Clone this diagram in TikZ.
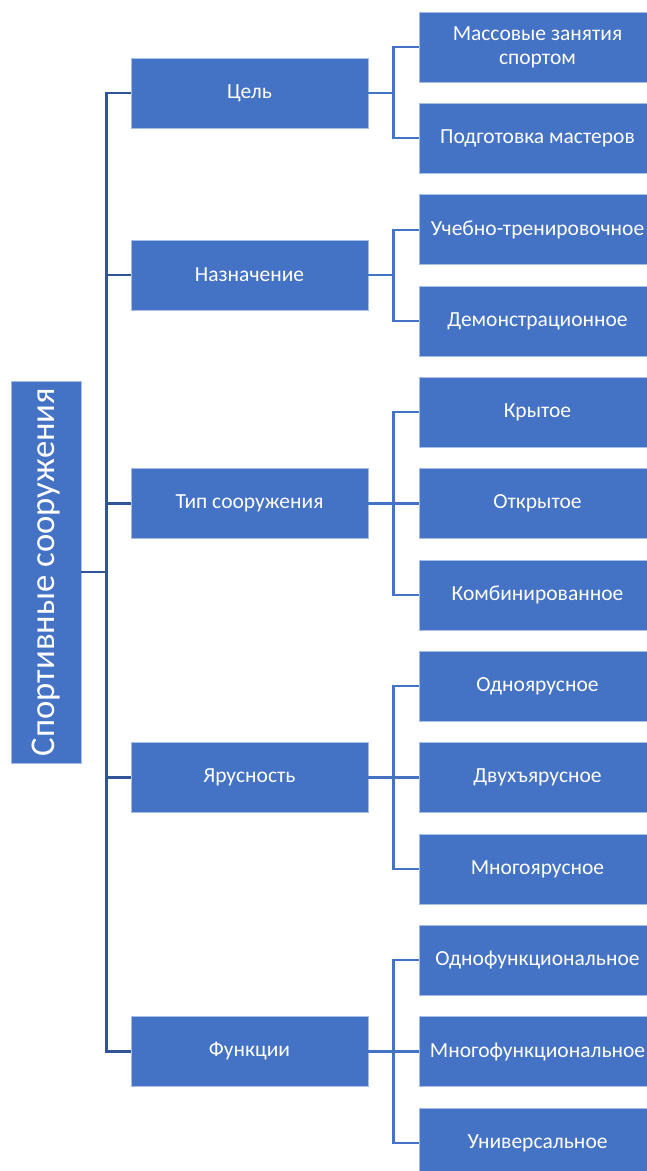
\documentclass[tikz,border=0pt]{standalone}
\usepackage{fontspec}
\setmainfont{Carlito}
\definecolor{boxblue}{HTML}{4472C4}
\definecolor{boxedge}{HTML}{A9BEE4}
\definecolor{lineA}{HTML}{2F5597}
\definecolor{lineB}{HTML}{4472C4}
\begin{document}
\begin{tikzpicture}[x=1pt,y=-1pt,
  box/.style={fill=boxblue, draw=boxedge, line width=0.8pt, minimum width=237pt,
    minimum height=70pt, text=white, font=\fontsize{21.5}{24}\selectfont,
    align=center, inner sep=0pt},
  rootbox/.style={box, minimum width=382pt, minimum height=70pt, rotate=90,
    font=\fontsize{34.7}{40}\selectfont},
  lvlA/.style={draw=lineA, line width=2.2pt},
  lvlB/.style={draw=lineB, line width=2.2pt}]
\useasboundingbox (0,0) rectangle (646,1171);
\fill[white] (0,0) rectangle (646,1171);

\node[rootbox] (root) at (46,572) {Спортивные сооружения};

\node[box] (m1) at (249.5,93) {Цель};
\node[box] (m2) at (249.5,275) {Назначение};
\node[box] (m3) at (249.5,503.5) {Тип сооружения};
\node[box] (m4) at (249.5,777.5) {Ярусность};
\node[box] (m5) at (249.5,1051.5) {Функции};

\node[box] (r1) at (537.5,47) {Массовые занятия\\спортом};
\node[box] (r2) at (537.5,138.3) {Подготовка мастеров};
\node[box] (r3) at (537.5,229.7) {Учебно-тренировочное};
\node[box] (r4) at (537.5,321) {Демонстрационное};
\node[box] (r5) at (537.5,412.3) {Крытое};
\node[box] (r6) at (537.5,503.5) {Открытое};
\node[box] (r7) at (537.5,595) {Комбинированное};
\node[box] (r8) at (537.5,686.3) {Одноярусное};
\node[box] (r9) at (537.5,777.5) {Двухъярусное};
\node[box] (r10) at (537.5,869) {Многоярусное};
\node[box] (r11) at (537.5,960.2) {Однофункциональное};
\node[box] (r12) at (537.5,1051.5) {Многофункциональное};
\node[box] (r13) at (537.5,1143) {Универсальное};

\foreach \m in {m1,m2,m3,m4,m5}
  \draw[lvlA] (root.south) -- ++(25,0) |- (\m.west);

\foreach \m/\r in {m1/r1,m1/r2,m2/r3,m2/r4,m3/r5,m3/r6,m3/r7,m4/r8,m4/r9,m4/r10,m5/r11,m5/r12,m5/r13}
  \draw[lvlB] (\m.east) -- ++(25,0) |- (\r.west);
\end{tikzpicture}
\end{document}
